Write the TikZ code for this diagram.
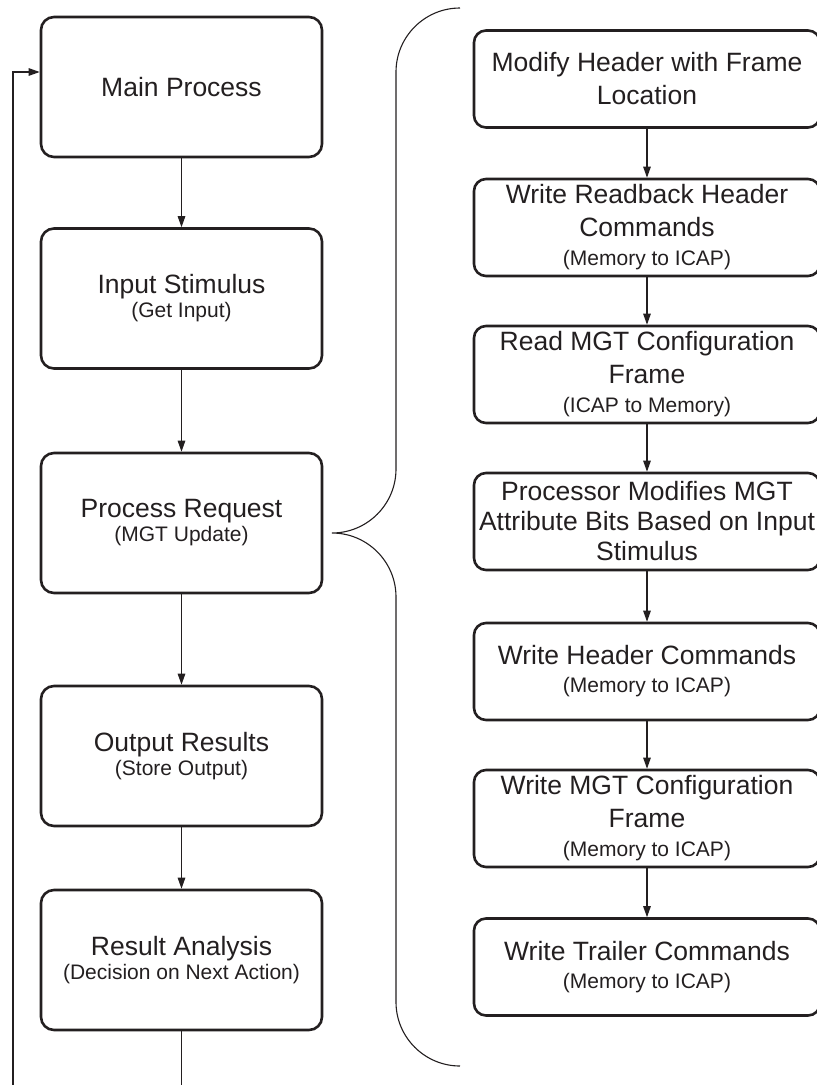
\documentclass[tikz,border=0pt]{standalone}
\usepackage{fontspec}
\setmainfont{Liberation Sans}
\usetikzlibrary{arrows.meta}
\definecolor{ink}{HTML}{231F20}
\newcommand{\subtxt}{\fontsize{21}{28}\selectfont}
\tikzset{
  lbox/.style={draw=ink, line width=2.6pt, rounded corners=13pt,
    minimum width=281pt, minimum height=140pt, inner sep=0pt,
    align=center, text=ink, font=\fontsize{26.5}{24}\selectfont},
  rbox/.style={draw=ink, line width=2.6pt, rounded corners=12pt,
    minimum width=346pt, minimum height=97pt, inner sep=0pt,
    align=center, text=ink, font=\fontsize{26.5}{33}\selectfont},
  tight/.style={font=\fontsize{26.5}{30}\selectfont},
  arr/.style={draw=ink, line width=1.2pt, -{Triangle[length=11pt,width=7.5pt]}},
  brace/.style={draw=ink, line width=1.1pt},
}
\begin{document}
\begin{tikzpicture}[x=1pt, y=-1pt]
\useasboundingbox (0,0) rectangle (817,1085);
\clip (0,0) rectangle (817,1085);

% main loop column
\node[lbox] (mp) at (181.5,87)    {Main Process};
\node[lbox] (is) at (181.5,298.5) {Input Stimulus\\{\subtxt (Get Input)}};
\node[lbox] (pr) at (181.5,523)   {Process Request\\{\subtxt (MGT Update)}};
\node[lbox] (or) at (181.5,756)   {Output Results\\{\subtxt (Store Output)}};
\node[lbox] (ra) at (181.5,960)   {Result Analysis\\{\subtxt (Decision on Next Action)}};

\draw[arr] (mp) -- (is);
\draw[arr] (is) -- (pr);
\draw[arr] (pr) -- (or);
\draw[arr] (or) -- (ra);

% return path back to the main process
\coordinate (lb) at (13,1100);
\coordinate (lt) at (13,72);
\draw[arr] (ra.south) -- (ra.south |- lb) -- (lb) -- (lt) -- (lt -| mp.west);

% expansion of the MGT update step
\node[rbox] (s1) at (647,79)    {Modify Header with Frame\\Location};
\node[rbox] (s2) at (647,227.5) {Write Readback Header\\Commands\\[-4pt]{\subtxt (Memory to ICAP)}};
\node[rbox] (s3) at (647,374.5) {Read MGT Configuration\\Frame\\[-4pt]{\subtxt (ICAP to Memory)}};
\node[rbox,tight] (s4) at (647,521.5) {Processor Modifies MGT\\Attribute Bits Based on Input\\Stimulus};
\node[rbox] (s5) at (647,671.5) {Write Header Commands\\[-5pt]{\subtxt (Memory to ICAP)}};
\node[rbox] (s6) at (647,818.5) {Write MGT Configuration\\Frame\\[-4pt]{\subtxt (Memory to ICAP)}};
\node[rbox] (s7) at (647,967)   {Write Trailer Commands\\[-5pt]{\subtxt (Memory to ICAP)}};

\draw[arr] (s1) -- (s2);
\draw[arr] (s2) -- (s3);
\draw[arr] (s3) -- (s4);
\draw[arr] (s4) -- (s5);
\draw[arr] (s5) -- (s6);
\draw[arr] (s6) -- (s7);

% curly brace joining the two columns
\draw[brace] (460,8) .. controls (424.7,8) and (396,36.7) .. (396,72)
  -- (396,469) .. controls (396,504.3) and (367.3,533) .. (332,533)
  .. controls (367.3,533) and (396,561.7) .. (396,597)
  -- (396,1002) .. controls (396,1037.3) and (424.7,1066) .. (460,1066);
\end{tikzpicture}
\end{document}
